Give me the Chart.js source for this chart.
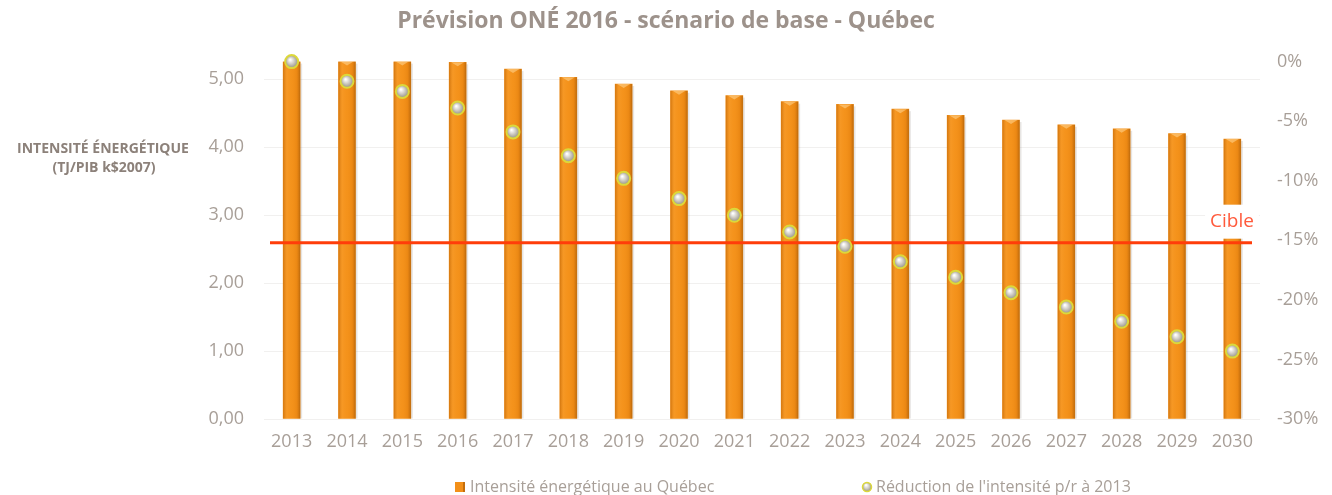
<!DOCTYPE html>
<html lang="fr">
<head>
<meta charset="utf-8">
<title>Prévision ONÉ 2016 - scénario de base - Québec</title>
<script src="https://cdn.jsdelivr.net/npm/chart.js@4.4.1/dist/chart.umd.min.js"></script>
<style>
    html, body { margin: 0; padding: 0; background: #ffffff; }
    #wrap { position: relative; width: 1332px; height: 495px; }
</style>
</head>
<body>
<div id="wrap"><canvas id="chart"></canvas></div>
<script>
    // Values
    const years = ['2013', '2014', '2015', '2016', '2017', '2018', '2019', '2020', '2021',
                   '2022', '2023', '2024', '2025', '2026', '2027', '2028', '2029', '2030'];
    const intensity = [5.26, 5.26, 5.26, 5.25, 5.15, 5.03, 4.93, 4.83, 4.76,
                       4.67, 4.63, 4.56, 4.47, 4.40, 4.33, 4.27, 4.20, 4.12];
    const reduction = [0, -1.65, -2.5, -3.9, -5.9, -7.9, -9.8, -11.5, -12.9,
                       -14.3, -15.5, -16.8, -18.1, -19.4, -20.6, -21.8, -23.1, -24.3];
    const cible = -15.2;
    const leftTicks = [0, 1, 2, 3, 4, 5];
    const rightTicks = [0, -5, -10, -15, -20, -25, -30];

    const FONT = "'Open Sans', 'DejaVu Sans', sans-serif";
    const GREY = '#a89f98';
    const ORANGE = '#f39019';

    // Silver ball with yellow rim for the reduction markers
    const ballFill = (ctx) => {
        const chart = ctx.chart;
        if (ctx.type !== 'data' || !chart.scales.x || !chart.scales.y1) return '#c8c5bc';
        const x = chart.scales.x.getPixelForValue(ctx.dataIndex);
        const y = chart.scales.y1.getPixelForValue(ctx.raw);
        if (!isFinite(x) || !isFinite(y)) return '#c8c5bc';
        const g = chart.ctx.createRadialGradient(x - 1.5, y - 2, 0.5, x, y, 7);
        g.addColorStop(0, '#ffffff');
        g.addColorStop(0.45, '#cfccc3');
        g.addColorStop(1, '#8d897e');
        return g;
    };

    // Cylinder-ish shading over the bars, using the bar elements' own geometry
    const barShading = {
        id: 'barShading',
        afterDatasetDraw(chart, args) {
            if (args.index !== 0) return;
            const ctx = chart.ctx;
            ctx.save();
            args.meta.data.forEach((bar) => {
                const w = bar.width;
                const left = bar.x - w / 2;
                const h = bar.base - bar.y;
                // soft shadow on the right side
                ctx.fillStyle = 'rgba(120, 110, 100, 0.18)';
                ctx.fillRect(left + w, bar.y + 2, 2, h - 2);
                const g = ctx.createLinearGradient(left, 0, left + w, 0);
                g.addColorStop(0, 'rgba(170, 85, 0, 0.45)');
                g.addColorStop(0.22, 'rgba(255, 175, 70, 0.25)');
                g.addColorStop(0.5, 'rgba(255, 165, 45, 0.10)');
                g.addColorStop(0.8, 'rgba(205, 105, 0, 0.20)');
                g.addColorStop(1, 'rgba(130, 65, 0, 0.50)');
                ctx.fillStyle = g;
                ctx.fillRect(left, bar.y, w, h);
                // small bevel highlight at the top
                ctx.fillStyle = 'rgba(255, 215, 150, 0.55)';
                ctx.beginPath();
                ctx.moveTo(left + 2, bar.y);
                ctx.lineTo(left + w - 2, bar.y);
                ctx.lineTo(bar.x, bar.y + 4);
                ctx.closePath();
                ctx.fill();
            });
            ctx.restore();
        }
    };

    // Target line at -15% with its "Cible" label (drawn over bars, under markers)
    const cibleLine = {
        id: 'cibleLine',
        afterDatasetDraw(chart, args) {
            if (args.index !== 0) return;
            const { ctx, chartArea } = chart;
            const y = chart.scales.y1.getPixelForValue(cible);
            ctx.save();
            ctx.strokeStyle = '#ff3d0a';
            ctx.lineWidth = 3;
            ctx.beginPath();
            ctx.moveTo(chartArea.left + 6, y);
            ctx.lineTo(chartArea.right - 8, y);
            ctx.stroke();
            const lx = chartArea.right - 28;
            const ly = y - 21;
            ctx.font = '19px ' + FONT;
            const tw = ctx.measureText('Cible').width;
            ctx.fillStyle = '#ffffff';
            ctx.fillRect(lx - tw / 2 - 5, ly - 17, tw + 10, 34);
            ctx.fillStyle = '#ff5a3c';
            ctx.textAlign = 'center';
            ctx.textBaseline = 'middle';
            ctx.fillText('Cible', lx, ly);
            ctx.restore();
        }
    };

    // Horizontal left-axis caption, two lines
    const axisCaption = {
        id: 'axisCaption',
        afterDraw(chart) {
            const ctx = chart.ctx;
            ctx.save();
            ctx.fillStyle = '#8c817a';
            ctx.font = 'bold 14px ' + FONT;
            ctx.textAlign = 'center';
            ctx.textBaseline = 'middle';
            ctx.fillText('INTENSITÉ ÉNERGÉTIQUE', 103, 149);
            ctx.fillText('(TJ/PIB k$2007)', 104, 168);
            ctx.restore();
        }
    };

    // Bottom legend with the wide spacing of the original
    const wideLegend = {
        id: 'wideLegend',
        afterDraw(chart) {
            const ctx = chart.ctx;
            const y = 487;
            const ds = chart.data.datasets;
            ctx.save();
            ctx.font = '16px ' + FONT;
            ctx.textBaseline = 'middle';
            ctx.textAlign = 'left';
            // bar item
            ctx.fillStyle = ORANGE;
            ctx.fillRect(455, y - 5, 10, 10);
            ctx.fillStyle = 'rgba(150, 75, 0, 0.5)';
            ctx.fillRect(463, y - 5, 2, 10);
            ctx.fillStyle = GREY;
            ctx.fillText(ds[0].label, 470, y);
            // marker item
            const g = ctx.createRadialGradient(866, y - 2, 0.5, 867, y, 5);
            g.addColorStop(0, '#ffffff');
            g.addColorStop(0.5, '#cfccc3');
            g.addColorStop(1, '#8d897e');
            ctx.fillStyle = g;
            ctx.strokeStyle = '#dcd83a';
            ctx.lineWidth = 1.5;
            ctx.beginPath();
            ctx.arc(867, y, 4.5, 0, Math.PI * 2);
            ctx.fill();
            ctx.stroke();
            ctx.fillStyle = GREY;
            ctx.fillText(ds[1].label, 876, y);
            ctx.restore();
        }
    };

    const chart = new Chart(document.getElementById('chart'), {
        type: 'bar',
        data: {
            labels: years,
            datasets: [
                {
                    type: 'bar',
                    label: 'Intensité énergétique au Québec',
                    data: intensity,
                    yAxisID: 'y',
                    backgroundColor: ORANGE,
                    borderWidth: 0,
                    barThickness: 17,
                    order: 2
                },
                {
                    type: 'line',
                    label: "Réduction de l'intensité p/r à 2013",
                    data: reduction,
                    yAxisID: 'y1',
                    showLine: false,
                    pointRadius: 6.5,
                    pointBackgroundColor: ballFill,
                    pointBorderColor: '#dcd83a',
                    pointBorderWidth: 2,
                    clip: false,
                    order: 1
                }
            ]
        },
        options: {
            responsive: true,
            maintainAspectRatio: false,
            animation: false,
            layout: { padding: { top: 0, left: 0, right: 0, bottom: 42 } },
            plugins: {
                legend: { display: false },
                tooltip: { enabled: false },
                title: {
                    display: true,
                    text: 'Prévision ONÉ 2016 - scénario de base - Québec',
                    color: '#9d928b',
                    font: { family: FONT, size: 23, weight: 'bold' },
                    padding: { top: 8, bottom: 26 }
                }
            },
            scales: {
                x: {
                    afterFit: (scale) => { scale.height = 34; },
                    grid: { display: false, drawTicks: false },
                    border: { display: false },
                    ticks: {
                        color: GREY,
                        font: { family: FONT, size: 18 },
                        padding: 12,
                        maxRotation: 0,
                        autoSkip: false
                    }
                },
                y: {
                    position: 'left',
                    min: 0,
                    max: 5.26,
                    afterBuildTicks: (scale) => {
                        scale.ticks = leftTicks.map((v) => ({ value: v }));
                    },
                    afterFit: (scale) => { scale.width = 264; },
                    grid: { color: '#f1f0ef', drawTicks: false },
                    border: { display: false },
                    ticks: {
                        color: GREY,
                        font: { family: FONT, size: 18 },
                        padding: 20,
                        callback: (v) => v.toFixed(2).replace('.', ',')
                    }
                },
                y1: {
                    position: 'right',
                    min: -30,
                    max: 0,
                    afterBuildTicks: (scale) => {
                        scale.ticks = rightTicks.map((v) => ({ value: v }));
                    },
                    afterFit: (scale) => { scale.width = 72; },
                    grid: { display: false, drawTicks: false },
                    border: { display: false },
                    ticks: {
                        color: GREY,
                        font: { family: FONT, size: 18 },
                        padding: 17,
                        callback: (v) => Math.round(v) + '%'
                    }
                }
            }
        },
        plugins: [barShading, cibleLine, axisCaption, wideLegend]
    });
</script>
</body>
</html>
